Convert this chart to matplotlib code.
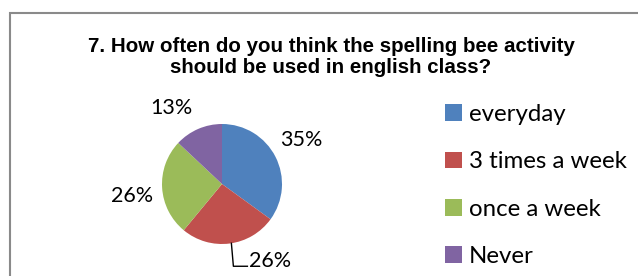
import numpy as np
import matplotlib.pyplot as plt
from matplotlib.patches import Rectangle

# chart data
categories = ['everyday', '3 times a week', 'once a week', 'Never']
shares = [35, 26, 26, 13]
colors = ['#4F81BD', '#C0504D', '#9BBB59', '#8064A2']
title = '7. How often do you think the spelling bee activity\nshould be used in english class?'

W, H = 638, 276
fig = plt.figure(figsize=(W / 100, H / 100), dpi=100)
fig.patch.set_facecolor('white')

# axes in pixel units (y up)
ax = fig.add_axes([0, 0, 1, 1])

# chart area border (runs off the right / bottom edge)
fig.patches.append(Rectangle((10 / W, -0.1), 1.0, (H - 13) / H + 0.1, transform=fig.transFigure,
                             fill=False, edgecolor='#8a8a8a', linewidth=1.5))

fig.text(331 / W, (H - 57) / H, title, ha='center', va='center', fontsize=14.8,
         fontweight='bold', family='Liberation Sans', linespacing=1.17)

cx, cy, r = 222, H - 184, 60
wedges, _ = ax.pie(shares, colors=colors, startangle=90, counterclock=False,
                   center=(cx, cy), radius=r, frame=True)
ax.set_xlim(0, W)
ax.set_ylim(0, H)
ax.set_aspect('equal')
ax.axis('off')

# data labels placed outside the wedges
lab_font = dict(family='Lato', fontsize=15.5, color='black')
for i, (w, s) in enumerate(zip(wedges, shares)):
    mid = np.deg2rad((w.theta1 + w.theta2) / 2)
    if i == 1:
        # label pushed down with a leader line
        ex, ey = cx + r * np.cos(np.deg2rad(-81)), cy + r * np.sin(np.deg2rad(-81))
        ax.plot([ex, ex + 2, ex + 16], [ey, ey - 23, ey - 23], color='black', lw=1)
        ax.text(ex + 18, ey - 18, f'{s}%', ha='left', va='center', **lab_font)
    else:
        d = 1.52 * r
        off = {0: 2, 2: 4, 3: 10}[i]
        a = mid + np.deg2rad(off)
        ax.text(cx + d * np.cos(a), cy + d * np.sin(a), f'{s}%', ha='center', va='center', **lab_font)

leg = ax.legend(wedges, categories, loc='upper left', bbox_to_anchor=(445 / W, (H - 104) / H),
                frameon=False, prop={'family': 'Lato', 'size': 17.3},
                handlelength=0.7, handleheight=0.7, handletextpad=0.3, labelspacing=1.1,
                borderaxespad=0, borderpad=0)

fig.savefig('out.png', dpi=100)
